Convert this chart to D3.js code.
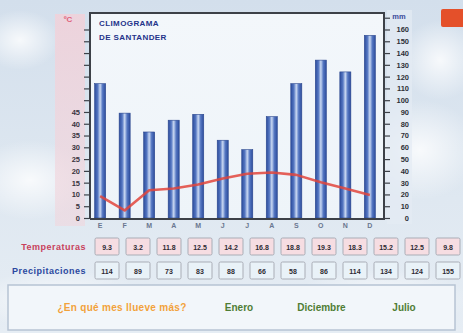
<!DOCTYPE html>
<html>
<head>
<meta charset="utf-8">
<script src="https://cdn.jsdelivr.net/npm/d3@7/dist/d3.min.js"></script>
<style>
  html, body { margin: 0; padding: 0; background: #dbe5ef; }
  svg { display: block; font-family: "Liberation Sans", Arial, sans-serif; }
</style>
</head>
<body>
<svg id="chart" width="463" height="333"></svg>
<script>
// Climograma de Santander: precipitación mensual (barras) y temperatura media (línea)
const months = ["E", "F", "M", "A", "M", "J", "J", "A", "S", "O", "N", "D"];
const temperatures = [9.3, 3.2, 11.8, 12.5, 14.2, 16.8, 18.8, 19.3, 18.3, 15.2, 12.5, 9.8];
const precipitation = [114, 89, 73, 83, 88, 66, 58, 86, 114, 134, 124, 155];
const tempTicks = [0, 5, 10, 15, 20, 25, 30, 35, 40, 45];
const precipTicks = [0, 10, 20, 30, 40, 50, 60, 70, 80, 90, 100, 110, 120, 130, 140, 150, 160];
const answers = ["Enero", "Diciembre", "Julio"];

const svg = d3.select("#chart");
const W = 463, H = 333;
const box = { left: 90, right: 384, top: 13, bottom: 219 };

const defs = svg.append("defs");

// sky background
const sky = defs.append("linearGradient").attr("id", "sky").attr("x1", 0).attr("y1", 0).attr("x2", 0).attr("y2", 1);
sky.append("stop").attr("offset", "0%").attr("stop-color", "#d3dfec");
sky.append("stop").attr("offset", "60%").attr("stop-color", "#dfe8f1");
sky.append("stop").attr("offset", "100%").attr("stop-color", "#e6edf4");
svg.append("rect").attr("width", W).attr("height", H).attr("fill", "url(#sky)");

const cloud = defs.append("radialGradient").attr("id", "cloud");
cloud.append("stop").attr("offset", "0%").attr("stop-color", "#ffffff").attr("stop-opacity", 0.8);
cloud.append("stop").attr("offset", "100%").attr("stop-color", "#ffffff").attr("stop-opacity", 0);
[[30, 180, 60, 40], [420, 150, 60, 50], [440, 60, 40, 40], [20, 40, 40, 30], [60, 300, 90, 30], [380, 300, 90, 30]]
  .forEach(([cx, cy, rx, ry]) => svg.append("ellipse").attr("cx", cx).attr("cy", cy).attr("rx", rx).attr("ry", ry).attr("fill", "url(#cloud)"));

// axis label bands
const pink = defs.append("linearGradient").attr("id", "pink").attr("x1", 0).attr("y1", 0).attr("x2", 0).attr("y2", 1);
pink.append("stop").attr("offset", "0%").attr("stop-color", "#f3d0d8").attr("stop-opacity", 0.8);
pink.append("stop").attr("offset", "100%").attr("stop-color", "#f1d6dd").attr("stop-opacity", 0.6);
svg.append("rect").attr("x", 55).attr("y", 14).attr("width", 30).attr("height", 212)
  .attr("fill", "url(#pink)");
svg.append("rect").attr("x", 387).attr("y", 10).attr("width", 25).attr("height", 214)
  .attr("fill", "#e4ebf3").attr("opacity", 0.7);

// plot background
const plotBg = defs.append("linearGradient").attr("id", "plotBg").attr("x1", 0).attr("y1", 0).attr("x2", 0).attr("y2", 1);
plotBg.append("stop").attr("offset", "0%").attr("stop-color", "#f3f7fb");
plotBg.append("stop").attr("offset", "100%").attr("stop-color", "#eef4f9");
svg.append("rect").attr("x", box.left).attr("y", box.top)
  .attr("width", box.right - box.left).attr("height", box.bottom - box.top)
  .attr("fill", "url(#plotBg)");

// scales
const x = d3.scaleBand().domain(d3.range(12)).range([88, 382]).paddingInner(0.55).paddingOuter(0.27);
const yP = d3.scaleLinear().domain([0, 174]).range([218, box.top]);
const yT = d3.scaleLinear().domain([0, 87]).range([218, box.top]);

// bars
const barGrad = defs.append("linearGradient").attr("id", "barGrad").attr("x1", 0).attr("y1", 0).attr("x2", 1).attr("y2", 0);
[["0%", "#2c4c9c"], ["28%", "#5577c2"], ["50%", "#c9d8f2"], ["72%", "#5577c2"], ["100%", "#2c4c9c"]]
  .forEach(([o, c]) => barGrad.append("stop").attr("offset", o).attr("stop-color", c));

svg.append("g").selectAll("rect").data(precipitation).join("rect")
  .attr("x", (d, i) => x(i))
  .attr("width", x.bandwidth())
  .attr("y", d => yP(d))
  .attr("height", d => yP(0) - yP(d))
  .attr("fill", "url(#barGrad)")
  .attr("stroke", "#2a468e").attr("stroke-width", 0.6);

// temperature line
const line = d3.line().x((d, i) => x(i) + x.bandwidth() / 2).y(d => yT(d));
svg.append("path").datum(temperatures)
  .attr("d", line).attr("fill", "none")
  .attr("stroke", "#e2453c").attr("stroke-width", 2.6).attr("stroke-opacity", 0.85)
  .attr("stroke-linejoin", "round");

// frame
svg.append("path")
  .attr("d", `M${box.left},${box.bottom}V${box.top}H${box.right}V${box.bottom}H${box.left}`)
  .attr("fill", "none").attr("stroke", "#3d4148").attr("stroke-width", 2);

// left axis (ºC)
const leftAxis = d3.axisLeft(yT).tickValues(d3.range(0, 85, 5)).tickSize(5)
  .tickFormat(d => tempTicks.includes(d) ? d : "");
const gL = svg.append("g").attr("transform", `translate(${box.left - 1},0)`).call(leftAxis);
gL.select(".domain").remove();
gL.selectAll("line").attr("stroke", "#3d4148").attr("stroke-width", 1.2);
gL.selectAll("text").attr("x", -9).attr("fill", "#3a3540")
  .style("font-size", "7.5px").style("font-weight", "bold");

// right axis (mm)
const rightAxis = d3.axisRight(yP).tickValues(d3.range(0, 175, 10)).tickSize(5)
  .tickFormat(d => precipTicks.includes(d) ? d : "");
const gR = svg.append("g").attr("transform", `translate(${box.right + 1},0)`).call(rightAxis);
gR.select(".domain").remove();
gR.selectAll("line").attr("stroke", "#3d4148").attr("stroke-width", 1.2);
gR.selectAll("text").attr("x", 24).attr("text-anchor", "end").attr("fill", "#2e3138")
  .style("font-size", "7.5px").style("font-weight", "bold");

svg.append("text").attr("x", 68).attr("y", 22).attr("text-anchor", "middle")
  .attr("fill", "#e0607a").style("font-size", "8px").style("font-weight", "bold").text("ºC");
svg.append("text").attr("x", 399).attr("y", 19).attr("text-anchor", "middle")
  .attr("fill", "#3a4a9a").style("font-size", "7.5px").style("font-weight", "bold").text("mm");

// title
svg.append("text").attr("x", 99).attr("y", 26).attr("fill", "#24338a")
  .style("font-size", "8px").style("font-weight", "bold").style("letter-spacing", "0.4px").text("CLIMOGRAMA");
svg.append("text").attr("x", 99).attr("y", 40).attr("fill", "#24338a")
  .style("font-size", "8px").style("font-weight", "bold").style("letter-spacing", "0.4px").text("DE SANTANDER");

// month labels
svg.append("g").selectAll("text").data(months).join("text")
  .attr("x", (d, i) => x(i) + x.bandwidth() / 2).attr("y", 228)
  .attr("text-anchor", "middle").attr("fill", "#6a7790")
  .style("font-size", "7px").style("font-weight", "bold").text(d => d);

// top-right button
svg.append("rect").attr("x", 441).attr("y", 9).attr("width", 24).attr("height", 18).attr("rx", 2)
  .attr("fill", "#e4502a");

// data table
const col = d3.scaleBand().domain(d3.range(12)).range([91.5, 463.5]);
const rows = [
  { label: "Temperaturas", color: "#c8415c", y: 238, fill: "#f6dde2", values: temperatures.map(v => v.toFixed(1)) },
  { label: "Precipitaciones", color: "#2b48a0", y: 262, fill: "#e9f2f8", values: precipitation.map(String) }
];
rows.forEach(r => {
  svg.append("text").attr("x", 86).attr("y", r.y + 12).attr("text-anchor", "end")
    .attr("fill", r.color).style("font-size", "9px").style("font-weight", "bold")
    .style("letter-spacing", "0.5px").text(r.label);
  const g = svg.append("g");
  g.selectAll("rect").data(r.values).join("rect")
    .attr("x", (d, i) => col(i) + col.bandwidth() / 2 - 12).attr("y", r.y)
    .attr("width", 24).attr("height", 17).attr("rx", 1.5)
    .attr("fill", r.fill).attr("stroke", "#a9adb6").attr("stroke-width", 1);
  g.selectAll("text").data(r.values).join("text")
    .attr("x", (d, i) => col(i) + col.bandwidth() / 2).attr("y", r.y + 11.5)
    .attr("text-anchor", "middle").attr("fill", "#2e2a33")
    .style("font-size", "7px").style("font-weight", "bold").text(d => d);
});

// question panel
svg.append("rect").attr("x", 8).attr("y", 285).attr("width", 447).attr("height", 45)
  .attr("fill", "#f2f6fa").attr("stroke", "#b7c3d3").attr("stroke-width", 1.5);
svg.append("text").attr("x", 122).attr("y", 311).attr("text-anchor", "middle")
  .attr("fill", "#f2a23a").style("font-size", "10px").style("font-weight", "bold")
  .style("letter-spacing", "0.3px").text("¿En qué mes llueve más?");
const answerX = d3.scalePoint().domain(answers).range([239, 404]);
svg.append("g").selectAll("text").data(answers).join("text")
  .attr("x", d => answerX(d)).attr("y", 311).attr("text-anchor", "middle")
  .attr("fill", "#4f7d35").style("font-size", "10px").style("font-weight", "bold").text(d => d);
</script>
</body>
</html>
